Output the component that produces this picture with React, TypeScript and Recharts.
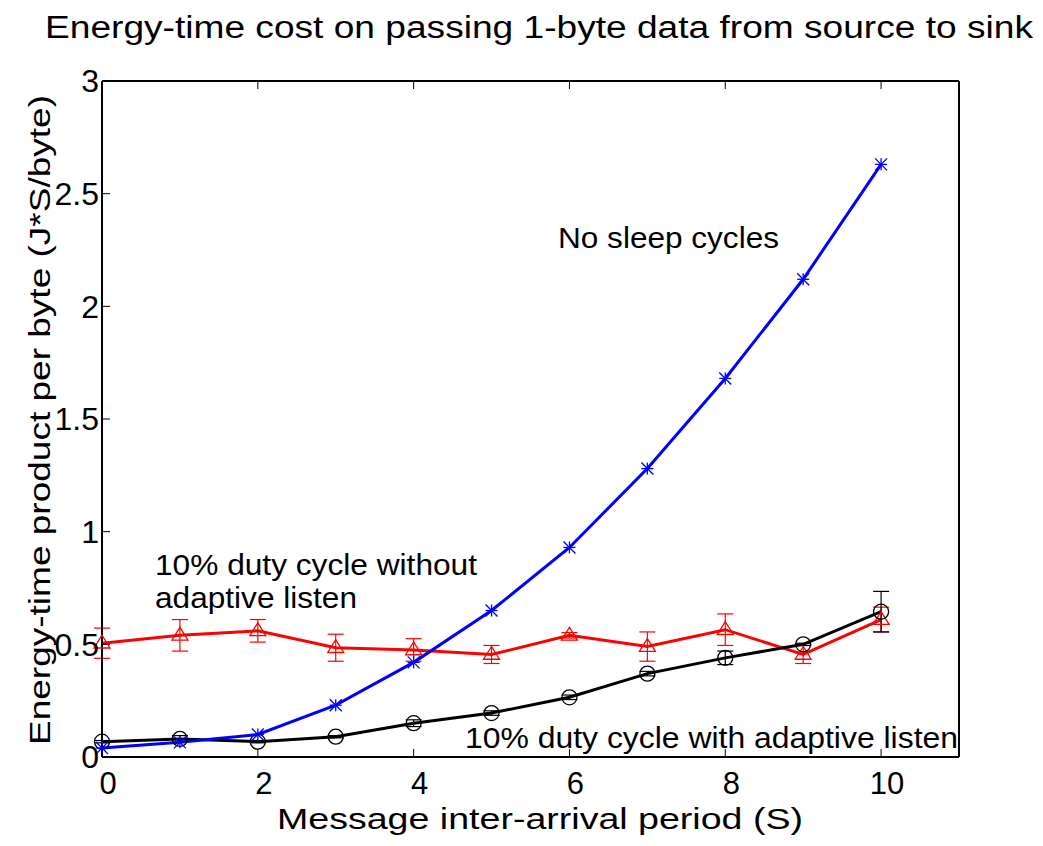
import React from 'react';
import { ComposedChart, Line, XAxis, YAxis, ErrorBar } from 'recharts';

const xs = [0, 1, 2, 3, 4, 5, 6, 7, 8, 9, 10];
const noSleep = [0.04, 0.065, 0.1, 0.23, 0.42, 0.65, 0.93, 1.28, 1.68, 2.12, 2.63];
const dutyNoAdaptive = [0.505, 0.54, 0.56, 0.485, 0.475, 0.455, 0.54, 0.49, 0.565, 0.455, 0.61];
const dutyNoAdaptiveErr = [0.067, 0.07, 0.05, 0.06, 0.05, 0.04, 0.012, 0.065, 0.07, 0.04, 0.055];
const dutyAdaptive = [0.068, 0.08, 0.068, 0.09, 0.15, 0.195, 0.265, 0.37, 0.44, 0.5, 0.645];
const dutyAdaptiveErr = [0.005, 0.015, 0.005, 0.005, 0.015, 0.01, 0.01, 0.01, 0.03, 0.005, 0.09];
const xTicks = [0, 2, 4, 6, 8, 10];
const yTicks = [0, 0.5, 1, 1.5, 2, 2.5, 3];

const data = xs.map((x, i) => ({
  x,
  noSleep: noSleep[i],
  noAd: dutyNoAdaptive[i],
  noAdErr: dutyNoAdaptiveErr[i],
  ad: dutyAdaptive[i],
  adErr: dutyAdaptiveErr[i],
}));

const FONT = '"Liberation Sans", Arial, Helvetica, sans-serif';

const StarDot = (p: any) => {
  const { cx, cy } = p;
  if (cx == null || cy == null) return null;
  const s = 6;
  return (
    <g stroke="#0000ff" strokeWidth={1.3} fill="none">
      <line x1={cx - s} y1={cy - s} x2={cx + s} y2={cy + s} />
      <line x1={cx - s} y1={cy + s} x2={cx + s} y2={cy - s} />
      <line x1={cx - s} y1={cy} x2={cx + s} y2={cy} />
      <line x1={cx} y1={cy - s} x2={cx} y2={cy + s} />
    </g>
  );
};

const TriDot = (p: any) => {
  const { cx, cy } = p;
  if (cx == null || cy == null) return null;
  const s = 8;
  return (
    <polygon
      points={`${cx},${cy - s} ${cx - s},${cy + s * 0.6} ${cx + s},${cy + s * 0.6}`}
      stroke="#ff0000"
      strokeWidth={1.3}
      fill="none"
    />
  );
};

const CircDot = (p: any) => {
  const { cx, cy } = p;
  if (cx == null || cy == null) return null;
  return <circle cx={cx} cy={cy} r={7.5} stroke="#000" strokeWidth={1.3} fill="none" />;
};

const xTickStyle = { fill: '#000', fontSize: 31, fontFamily: FONT, dx: 6 };
const yTickStyle = { fill: '#000', fontSize: 32, fontFamily: FONT };

export default function App() {
  return (
    <div style={{ position: 'relative', width: 1027, height: 838, background: '#fff' }}>
      <ComposedChart
        width={1027}
        height={830}
        data={data}
        margin={{ top: 72, right: 75, bottom: 0, left: 0 }}
        style={{ position: 'absolute', left: 0, top: 0 }}
      >
        <XAxis
          xAxisId="b"
          dataKey="x"
          type="number"
          domain={[0, 11]}
          ticks={xTicks}
          interval={0}
          tick={xTickStyle}
          fontSize={31}
          tickSize={-8}
          tickMargin={23}
          stroke="#000"
          axisLine={{ stroke: '#000', strokeWidth: 2 }}
          tickLine={{ stroke: '#000', strokeWidth: 1 }}
          height={81}
        />
        <XAxis
          xAxisId="t"
          dataKey="x"
          type="number"
          orientation="top"
          domain={[0, 11]}
          ticks={xTicks}
          interval={0}
          tick={{ fill: 'none', fontSize: 1 }}
          tickFormatter={() => ''}
          tickSize={-8}
          tickMargin={0}
          stroke="#000"
          axisLine={{ stroke: '#000', strokeWidth: 2 }}
          tickLine={{ stroke: '#000', strokeWidth: 1 }}
          height={1}
        />
        <YAxis
          yAxisId="l"
          type="number"
          domain={[0, 3]}
          ticks={yTicks}
          interval={0}
          tick={yTickStyle}
          fontSize={32}
          tickFormatter={(v: number) => String(v)}
          tickSize={-8}
          tickMargin={11}
          stroke="#000"
          axisLine={{ stroke: '#000', strokeWidth: 2 }}
          tickLine={{ stroke: '#000', strokeWidth: 1 }}
          width={94}
        />
        <YAxis
          yAxisId="r"
          orientation="right"
          type="number"
          domain={[0, 3]}
          ticks={yTicks}
          interval={0}
          tick={{ fill: 'none', fontSize: 1 }}
          tickFormatter={() => ''}
          tickSize={-8}
          tickMargin={0}
          stroke="#000"
          axisLine={{ stroke: '#000', strokeWidth: 2 }}
          tickLine={{ stroke: '#000', strokeWidth: 1 }}
          width={1}
        />
        <Line
          xAxisId="b"
          yAxisId="l"
          dataKey="noAd"
          stroke="#ff0000"
          strokeWidth={3}
          dot={<TriDot />}
          isAnimationActive={false}
        >
          <ErrorBar dataKey="noAdErr" direction="y" width={8} stroke="#ff0000" strokeWidth={1.2} isAnimationActive={false} />
        </Line>
        <Line
          xAxisId="b"
          yAxisId="l"
          dataKey="ad"
          stroke="#000000"
          strokeWidth={3}
          dot={<CircDot />}
          isAnimationActive={false}
        >
          <ErrorBar dataKey="adErr" direction="y" width={8} stroke="#000" strokeWidth={1.2} isAnimationActive={false} />
        </Line>
        <Line
          xAxisId="b"
          yAxisId="l"
          dataKey="noSleep"
          stroke="#0000ff"
          strokeWidth={3}
          dot={<StarDot />}
          isAnimationActive={false}
        />
      </ComposedChart>
      <svg
        width={1027}
        height={838}
        style={{ position: 'absolute', left: 0, top: 0, pointerEvents: 'none' }}
        fontFamily={FONT}
      >
        <text x={37} y={30} fontSize={31} fill="#000" textLength={988} lengthAdjust="spacingAndGlyphs">
          Energy-time cost on passing 1-byte data from source to sink
        </text>
        <text x={269} y={821} fontSize={29} fill="#000" textLength={526} lengthAdjust="spacingAndGlyphs">
          Message inter-arrival period (S)
        </text>
        <text
          x={0}
          y={0}
          textAnchor="middle"
          fontSize={30}
          fill="#000"
          textLength={650}
          lengthAdjust="spacingAndGlyphs"
          transform="translate(42 412) rotate(-90)"
        >
          Energy-time product per byte (J*S/byte)
        </text>
        <text x={550} y={240} fontSize={30} fill="#000" textLength={221} lengthAdjust="spacingAndGlyphs">
          No sleep cycles
        </text>
        <text x={147} y={567} fontSize={30} fill="#000" textLength={322} lengthAdjust="spacingAndGlyphs">
          10% duty cycle without
        </text>
        <text x={147} y={600} fontSize={30} fill="#000" textLength={202} lengthAdjust="spacingAndGlyphs">
          adaptive listen
        </text>
        <text x={457} y={740} fontSize={30} fill="#000" textLength={493} lengthAdjust="spacingAndGlyphs">
          10% duty cycle with adaptive listen
        </text>
      </svg>
    </div>
  );
}
